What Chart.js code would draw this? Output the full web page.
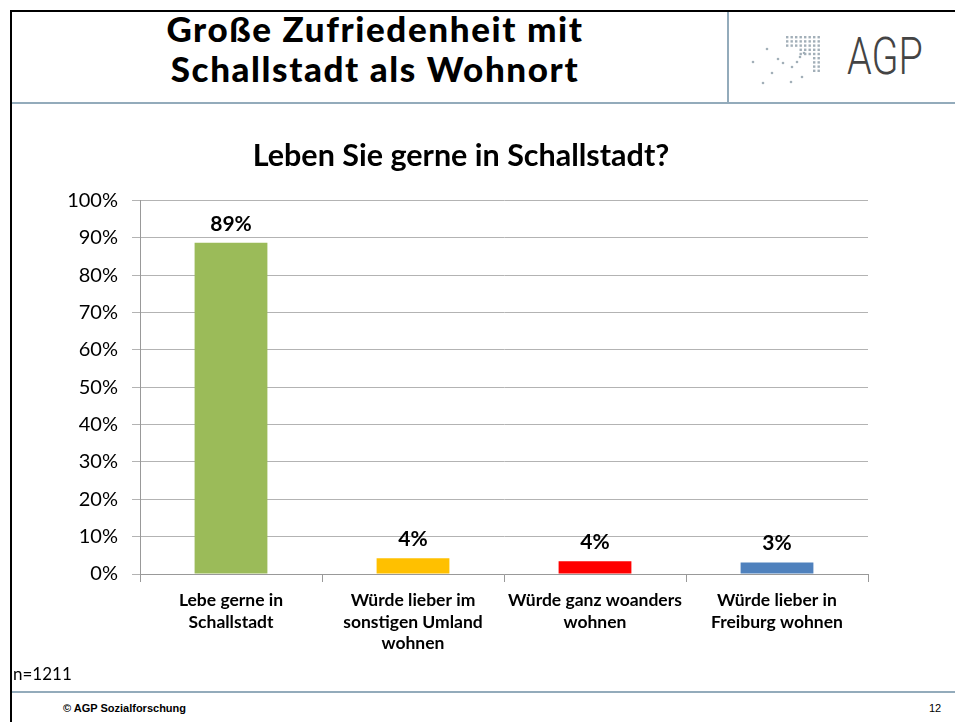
<!DOCTYPE html>
<html>
<head>
<meta charset="utf-8">
<script src="https://cdn.jsdelivr.net/npm/chart.js@4"></script>
<style>
  body { margin: 0; width: 955px; height: 722px; background: #fff; position: relative; overflow: hidden; font-family: Lato, sans-serif; }
  .abs { position: absolute; }
  #topline { left: 10px; top: 10px; width: 945px; height: 2px; background: #000; }
  #leftline { left: 10px; top: 10px; width: 2px; height: 712px; background: #000; }
  #headline { left: 12px; top: 102px; width: 943px; height: 2px; background: #93abbb; }
  #divider { left: 727px; top: 12px; width: 2px; height: 90px; background: #93abbb; }
  #footline { left: 12px; top: 691px; width: 943px; height: 2px; background: #93abbb; }
  #heading { left: 12px; top: 8px; width: 726px; text-align: center; font: 900 35px Lato, sans-serif; line-height: 40px; letter-spacing: 1.6px; color: #000; }
  #agp { left: 847px; top: 31px; font: 300 52px Roboto, sans-serif; line-height: 1; color: #444; transform: scaleX(0.76); transform-origin: 0 0; }
  #logo { left: 745px; top: 30px; }
  #n { left: 13px; top: 663px; font: 17px Lato, sans-serif; color: #000; }
  #copy { left: 63px; top: 702px; font: bold 11px "Liberation Sans", Arial, sans-serif; color: #000; }
  #page { left: 929px; top: 702px; font: 11px "Liberation Sans", Arial, sans-serif; color: #000; }
  #wrap { left: 12px; top: 104px; width: 943px; height: 587px; }
</style>
</head>
<body>
<div class="abs" id="topline"></div>
<div class="abs" id="leftline"></div>
<div class="abs" id="headline"></div>
<div class="abs" id="divider"></div>
<div class="abs" id="footline"></div>
<div class="abs" id="heading">Große Zufriedenheit mit<br>Schallstadt als Wohnort</div>
<svg class="abs" id="logo" width="85" height="60" viewBox="0 0 85 60">
  <g fill="#a2afb8">
    <circle cx="8" cy="32" r="1.3"/><circle cx="22" cy="19" r="1.3"/><circle cx="33" cy="29" r="1.3"/>
    <circle cx="38" cy="33" r="1.3"/><circle cx="47" cy="37" r="1.3"/><circle cx="52" cy="32" r="1.3"/>
    <circle cx="27" cy="43" r="1.3"/><circle cx="18" cy="53" r="1.3"/><circle cx="46" cy="52" r="1.3"/>
    <circle cx="57" cy="47" r="1.3"/><circle cx="55" cy="27" r="1.3"/><circle cx="59" cy="23" r="1.3"/>
  </g>
  <g id="grid" fill="#a2afb8"></g>
</svg>
<div class="abs" id="agp">AGP</div>
<div class="abs" id="wrap"><canvas id="myChart" width="943" height="587"></canvas></div>
<div class="abs" id="n">n=1211</div>
<div class="abs" id="copy">© AGP Sozialforschung</div>
<div class="abs" id="page">12</div>
<script>
// logo dot block (decoration only)
var g = document.getElementById("grid");
for (var r = 0; r < 9; r++) {
  for (var c = 0; c < 8; c++) {
    var minCol = r < 3 ? 0 : (r < 5 ? 3 : 6);
    if (c < minCol) continue;
    var d = document.createElementNS("http://www.w3.org/2000/svg", "rect");
    d.setAttribute("x", 41 + c * 4.5);
    d.setAttribute("y", 6 + r * 4.2);
    d.setAttribute("width", 2.4);
    d.setAttribute("height", 2.4);
    g.appendChild(d);
  }
}

var xValues = [
  ["Lebe gerne in", "Schallstadt"],
  ["Würde lieber im", "sonstigen Umland", "wohnen"],
  ["Würde ganz woanders", "wohnen"],
  ["Würde lieber in", "Freiburg wohnen"]
];
var yValues = [88.7, 4.2, 3.4, 3.1];
var valueLabels = ["89%", "4%", "4%", "3%"];
var barColors = ["#9BBB59", "#FFC000", "#FF0000", "#4F81BD"];
var yTicks = [0, 10, 20, 30, 40, 50, 60, 70, 80, 90, 100];

var barLabels = {
  id: "barLabels",
  afterLayout: function (chart) {
    // centre the title a bit further right, like the slide
    if (chart.titleBlock) chart.titleBlock.left += 42;
  },
  afterDatasetsDraw: function (chart) {
    var ctx = chart.ctx;
    var meta = chart.getDatasetMeta(0);
    ctx.save();
    ctx.font = "bold 21px Lato, sans-serif";
    ctx.fillStyle = "#000";
    ctx.textAlign = "center";
    ctx.textBaseline = "middle";
    meta.data.forEach(function (bar, i) {
      ctx.fillText(valueLabels[i], bar.x, bar.y - 19);
    });
    ctx.restore();
  }
};

new Chart("myChart", {
  type: "bar",
  data: {
    labels: xValues,
    datasets: [{
      backgroundColor: barColors,
      data: yValues,
      barPercentage: 0.4,
      categoryPercentage: 1
    }]
  },
  options: {
    responsive: false,
    animation: false,
    layout: { padding: { left: 0, right: 87, top: 0, bottom: 0 } },
    plugins: {
      legend: { display: false },
      tooltip: { enabled: false },
      title: {
        display: true,
        text: "Leben Sie gerne in Schallstadt?",
        color: "#000",
        font: { family: "Lato, sans-serif", size: 30.5, weight: "bold", lineHeight: 1.2 },
        padding: { top: 34, bottom: 26 }
      }
    },
    scales: {
      x: {
        afterFit: function (scale) { scale.height = 117; },
        grid: { offset: true, drawOnChartArea: false, drawTicks: true, tickLength: 8, color: "#999" },
        border: { color: "#999" },
        ticks: {
          color: "#000",
          padding: 8,
          maxRotation: 0,
          autoSkip: false,
          font: { family: "Lato, sans-serif", size: 17.5, weight: "bold", lineHeight: 1.23 }
        }
      },
      y: {
        min: 0,
        max: 100,
        afterFit: function (scale) { scale.width = 128; },
        afterBuildTicks: function (scale) {
          scale.ticks = yTicks.map(function (v) { return { value: v }; });
        },
        grid: { color: "#b3b3b3", tickLength: 8 },
        border: { color: "#999" },
        ticks: {
          color: "#000",
          padding: 14,
          font: { family: "Lato, sans-serif", size: 20 },
          callback: function (v) { return v + "%"; }
        }
      }
    }
  },
  plugins: [barLabels]
});
</script>
</body>
</html>
